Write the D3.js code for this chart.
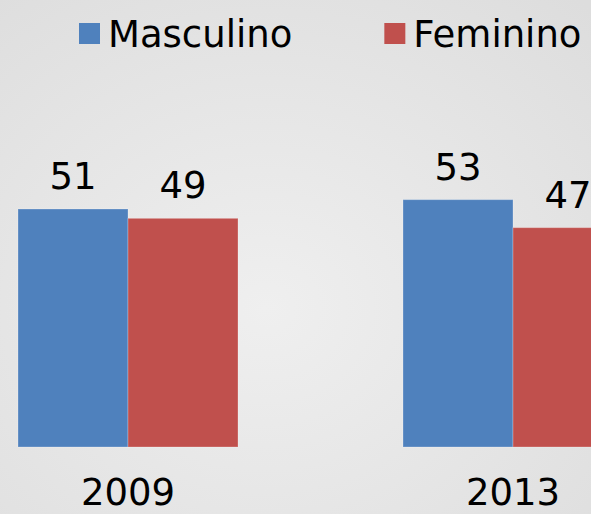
<!DOCTYPE html>
<html>
<head>
<meta charset="utf-8">
<script src="https://cdn.jsdelivr.net/npm/d3@7"></script>
<style>
  html, body { margin: 0; padding: 0; overflow: hidden; }
  text { font-family: "DejaVu Sans", Verdana, sans-serif; fill: #000; }
</style>
</head>
<body>
<script>
// data
var years = ["2009", "2013"];
var series = ["Masculino", "Feminino"];
var masculino = [51, 53];
var feminino = [49, 47];
var colors = ["#4f81bd", "#c0504d"];

(function() {
  var width = 591;
  var height = 514;

  var svg = d3.select("body")
    .append("svg")
    .attr("width", width)
    .attr("height", height);

  // soft gray background like the slide
  var defs = svg.append("defs");
  var grad = defs.append("radialGradient")
    .attr("id", "bg")
    .attr("cx", "45%").attr("cy", "60%").attr("r", "80%");
  grad.append("stop").attr("offset", "0%").attr("stop-color", "#efefef");
  grad.append("stop").attr("offset", "100%").attr("stop-color", "#dddddd");
  svg.append("rect")
    .attr("width", width).attr("height", height)
    .attr("fill", "url(#bg)");

  var table = years.map(function(y, i) {
    return { year: y, values: [masculino[i], feminino[i]] };
  });

  // group scale, second group runs off the right edge
  var x0 = d3.scaleBand()
    .domain(years)
    .range([-64.5, 705.5])
    .paddingInner(0.4286)
    .paddingOuter(0.2143);

  var x1 = d3.scaleBand()
    .domain(series)
    .range([0, x0.bandwidth()]);

  var y = d3.scaleLinear()
    .domain([0, 60])
    .range([447, 167]);

  var groups = svg.selectAll(".year")
    .data(table)
    .enter().append("g")
    .attr("class", "year")
    .attr("transform", function(d) { return "translate(" + x0(d.year) + ",0)"; });

  groups.selectAll("rect")
    .data(function(d) { return d.values.map(function(v, i) { return { key: series[i], value: v, i: i }; }); })
    .enter().append("rect")
    .attr("x", function(d) { return x1(d.key); })
    .attr("y", function(d) { return y(d.value); })
    .attr("width", x1.bandwidth())
    .attr("height", function(d) { return y(0) - y(d.value); })
    .attr("fill", function(d) { return colors[d.i]; })
    .attr("stroke", "rgba(255,255,255,0.25)")
    .attr("stroke-width", 1);

  groups.selectAll(".lbl")
    .data(function(d) { return d.values.map(function(v, i) { return { key: series[i], value: v }; }); })
    .enter().append("text")
    .attr("class", "lbl")
    .attr("x", function(d) { return x1(d.key) + x1.bandwidth() / 2; })
    .attr("y", function(d) { return y(d.value) - 20; })
    .attr("text-anchor", "middle")
    .style("font-size", "37px")
    .text(function(d) { return d.value; });

  // category labels (kept just inside the bottom edge)
  svg.selectAll(".cat")
    .data(years)
    .enter().append("text")
    .attr("class", "cat")
    .attr("x", function(d) { return x0(d) + x0.bandwidth() / 2; })
    .attr("y", 505)
    .attr("text-anchor", "middle")
    .style("font-size", "37px")
    .text(function(d) { return d; });

  // legend
  var lx = 79;
  series.forEach(function(s, i) {
    var g = svg.append("g").attr("transform", "translate(" + lx + ",0)");
    g.append("rect")
      .attr("x", 0).attr("y", 23)
      .attr("width", 21).attr("height", 21)
      .attr("fill", colors[i]);
    var t = g.append("text")
      .attr("x", 29).attr("y", 47)
      .style("font-size", "37px")
      .text(s);
    lx += 29 + t.node().getComputedTextLength() + 92;
  });
})();
</script>
</body>
</html>
